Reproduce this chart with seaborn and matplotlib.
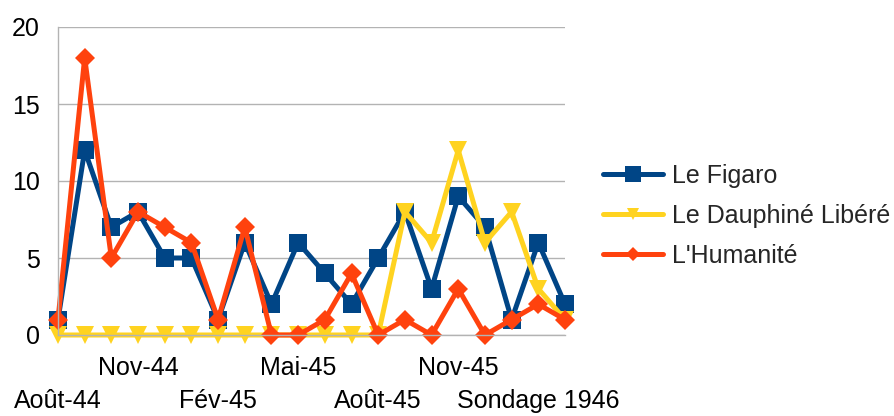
import matplotlib
matplotlib.use("Agg")
import matplotlib.pyplot as plt
import matplotlib.ticker as mticker
import seaborn as sns
import pandas as pd

categories = ["Août-44", "Sept-44", "Oct-44", "Nov-44", "Déc-44", "Janv-45", "Fév-45",
              "Mars-45", "Avr-45", "Mai-45", "Juin-45", "Juil-45", "Août-45", "Sept-45",
              "Oct-45", "Nov-45", "Déc-45", "Janv-46", "Sondage 1946", "Fév-46"]
figaro = [1, 12, 7, 8, 5, 5, 1, 6, 2, 6, 4, 2, 5, 8, 3, 9, 7, 1, 6, 2]
dauphine = [0, 0, 0, 0, 0, 0, 0, 0, 0, 0, 0, 0, 0, 8, 6, 12, 6, 8, 3, 1]
humanite = [1, 18, 5, 8, 7, 6, 1, 7, 0, 0, 1, 4, 0, 1, 0, 3, 0, 1, 2, 1]
series_names = ["Le Figaro", "Le Dauphiné Libéré", "L'Humanité"]
y_ticks = [0, 5, 10, 15, 20]

sns.set_style("white")
plt.rcParams["font.family"] = ["Liberation Sans", "DejaVu Sans"]

n = len(categories)
df = pd.DataFrame({
    "mois": categories * 3,
    "valeur": figaro + dauphine + humanite,
    "journal": [series_names[0]] * n + [series_names[1]] * n + [series_names[2]] * n,
})

colors = {"Le Figaro": "#004586", "Le Dauphiné Libéré": "#ffd320", "L'Humanité": "#ff420e"}
markers = {"Le Figaro": "s", "Le Dauphiné Libéré": "v", "L'Humanité": "D"}
sizes = {"Le Figaro": 13, "Le Dauphiné Libéré": 12.5, "L'Humanité": 10}
leg_sizes = {"Le Figaro": 12, "Le Dauphiné Libéré": 8, "L'Humanité": 7}

fig = plt.figure(figsize=(8.94, 4.16), dpi=100)
ax = fig.add_axes([58 / 894, 1 - 335 / 416, (565 - 58) / 894, (335 - 27) / 416])

sns.lineplot(data=df, x="mois", y="valeur", hue="journal", style="journal",
             markers=markers, dashes=False, palette=colors, hue_order=series_names,
             style_order=series_names, linewidth=3.6, markeredgewidth=0, ax=ax,
             sort=False, legend=True)

for line in ax.get_lines():
    line.set_clip_on(False)
for line, name in zip(ax.get_lines()[:3], series_names):
    line.set_markersize(sizes[name])

ax.set_xlim(0, n - 1)
ax.set_ylim(0, 20)
ax.set_yticks(y_ticks)

# staggered category labels: row 1 on major ticks, row 2 on minor ticks
row1 = [c if i % 6 == 3 else "" for i, c in enumerate(categories)]
row2_pos = [i for i in range(n) if i % 6 == 0]
ax.xaxis.set_major_locator(mticker.FixedLocator(list(range(n))))
ax.xaxis.set_major_formatter(mticker.FixedFormatter(row1))
ax.xaxis.set_minor_locator(mticker.FixedLocator(row2_pos))
ax.xaxis.set_minor_formatter(mticker.FixedFormatter([categories[i] for i in row2_pos]))
ax.xaxis.remove_overlapping_locs = False
ax.set_xlabel("")
ax.set_ylabel("")

grey = "#b3b3b3"
ax.yaxis.grid(True, color=grey, linewidth=1)
ax.set_axisbelow(True)
for s in ["top", "right"]:
    ax.spines[s].set_visible(False)
for s in ["left", "bottom"]:
    ax.spines[s].set_color(grey)
    ax.spines[s].set_linewidth(1)
ax.tick_params(axis="both", which="major", colors=grey, labelcolor="black", length=7.2,
               width=1, labelsize=18, direction="out")
ax.tick_params(axis="x", which="major", pad=8)
ax.tick_params(axis="x", which="minor", length=0, labelsize=18, labelcolor="black",
               pad=8 + 7.2 + 23.8)
ax.tick_params(axis="y", pad=6)

handles, labs = ax.get_legend_handles_labels()
for h, name in zip(handles, labs):
    h.set_markersize(leg_sizes.get(name, 10))
    h.set_linewidth(3.6)
ax.legend(handles, labs, loc="center left", bbox_to_anchor=(603 / 894, 1 - 216 / 416),
          bbox_transform=fig.transFigure, frameon=False, fontsize=18,
          handlelength=2.4, handletextpad=0.36, labelspacing=0.64, borderaxespad=0,
          borderpad=0)

fig.savefig("out.png", dpi=100)
